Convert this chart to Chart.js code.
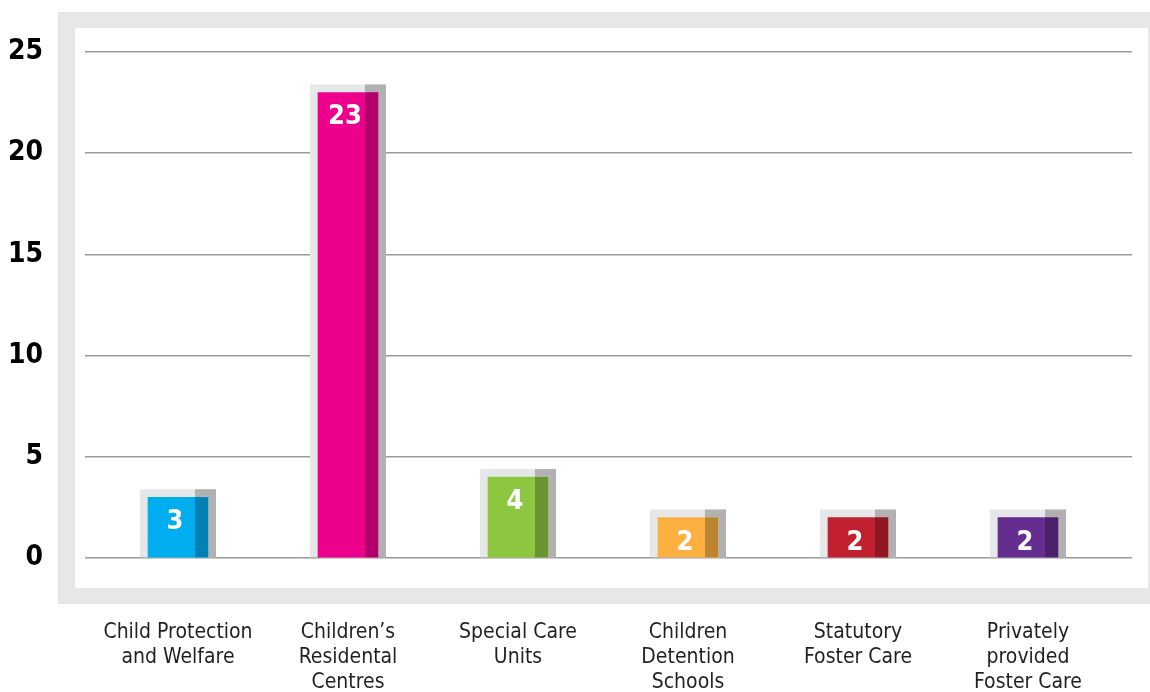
<!DOCTYPE html>
<html>
<head>
<meta charset="utf-8">
<script src="https://cdn.jsdelivr.net/npm/chart.js@4"></script>
<style>
  html, body { margin: 0; padding: 0; background: #ffffff; }
  #wrap { width: 1150px; height: 692px; position: relative; }
</style>
</head>
<body>
<div id="wrap"><canvas id="c"></canvas></div>
<script>
const categories = [
  ["Child Protection", "and Welfare"],
  ["Children\u2019s", "Residental", "Centres"],
  ["Special Care", "Units"],
  ["Children", "Detention", "Schools"],
  ["Statutory", "Foster Care"],
  ["Privately", "provided", "Foster Care"]
];
const values = [3, 23, 4, 2, 2, 2];
const barColors = ["#00adee", "#ec008c", "#8dc63f", "#fbb040", "#c1202f", "#662d91"];
const yTicks = [0, 5, 10, 15, 20, 25];

const NARROW = "'Liberation Sans Narrow', 'DejaVu Sans Condensed', 'Arial Narrow', sans-serif";

const decorPlugin = {
  id: 'decor',
  beforeDraw(chart) {
    const ctx = chart.ctx;
    const a = chart.chartArea;
    ctx.save();
    ctx.fillStyle = '#e6e7e8';
    ctx.fillRect(a.left - 27, a.top - 40, chart.width - (a.left - 27), (a.bottom + 46) - (a.top - 40));
    ctx.fillStyle = '#ffffff';
    ctx.fillRect(a.left - 10, a.top - 24, (a.right + 16) - (a.left - 10), (a.bottom + 30) - (a.top - 24));
    ctx.restore();
  },
  beforeDatasetsDraw(chart) {
    const ctx = chart.ctx;
    const meta = chart.getDatasetMeta(0);
    ctx.save();
    meta.data.forEach((bar) => {
      const p = bar.getProps(['x', 'y', 'base', 'width'], true);
      const half = p.width / 2;
      const left = p.x - half - 8, right = p.x + half + 8, top = p.y - 8;
      ctx.fillStyle = '#e6e7e8';
      ctx.fillRect(left, top, right - left, p.base - top);
      ctx.fillStyle = '#b1b1b1';
      ctx.fillRect(p.x + half - 13, top, right - (p.x + half - 13), p.base - top);
    });
    ctx.restore();
  },
  afterDatasetsDraw(chart) {
    const ctx = chart.ctx;
    const meta = chart.getDatasetMeta(0);
    ctx.save();
    meta.data.forEach((bar, i) => {
      const p = bar.getProps(['x', 'y', 'base', 'width'], true);
      const half = p.width / 2;
      ctx.fillStyle = 'rgba(0,0,0,0.25)';
      ctx.fillRect(p.x + half - 13, p.y, 13, p.base - p.y);
      ctx.fillStyle = '#ffffff';
      ctx.font = "bold 27px " + NARROW;
      ctx.textAlign = 'center';
      ctx.textBaseline = 'middle';
      ctx.fillText(String(values[i]), p.x - 3, p.y + 25);
    });
    ctx.restore();
  }
};

new Chart(document.getElementById('c'), {
  type: 'bar',
  data: {
    datasets: [{
      data: values.map((v, i) => ({ x: i, y: v })),
      backgroundColor: barColors,
      borderWidth: 0,
      barThickness: 60
    }]
  },
  options: {
    responsive: true,
    maintainAspectRatio: false,
    animation: false,
    layout: { padding: { top: 52, right: 18, left: 0, bottom: 0 } },
    plugins: { legend: { display: false }, tooltip: { enabled: false } },
    scales: {
      x: {
        type: 'linear',
        offset: false,
        min: -0.5471,
        max: 5.6118,
        grid: { display: false, drawTicks: false },
        border: { display: false },
        afterBuildTicks(scale) { scale.ticks = categories.map((_, i) => ({ value: i })); },
        afterFit(scale) { scale.height = 134; scale.paddingLeft = 0; scale.paddingRight = 0; },
        ticks: {
          autoSkip: false,
          maxRotation: 0,
          padding: 62,
          color: '#231f20',
          font: { family: NARROW, size: 21, lineHeight: 1.2 },
          callback: (v) => categories[v]
        }
      },
      y: {
        min: 0,
        max: 25,
        grid: { color: '#9a9a9a', lineWidth: 1.5, drawTicks: false },
        border: { display: false },
        afterBuildTicks(scale) { scale.ticks = yTicks.map(v => ({ value: v })); },
        afterFit(scale) { scale.width = 85; scale.paddingTop = 0; scale.paddingBottom = 0; },
        ticks: {
          padding: 42,
          color: '#000000',
          font: { family: NARROW, size: 28, weight: 'bold' }
        }
      }
    }
  },
  plugins: [decorPlugin]
});
</script>
</body>
</html>
